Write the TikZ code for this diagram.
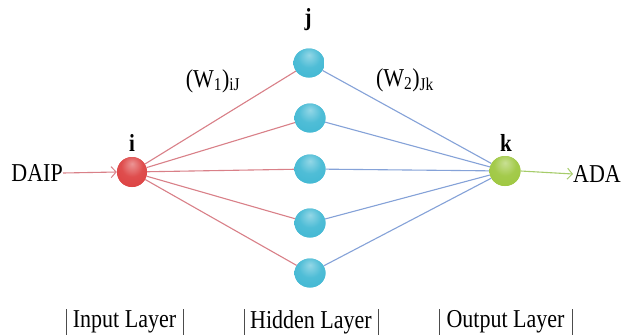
\documentclass[tikz,border=0pt]{standalone}
\usepackage{fontspec}
\setmainfont{Liberation Serif}
\usetikzlibrary{arrows.meta,shapes.geometric}
\definecolor{redline}{HTML}{D98088}
\definecolor{blueline}{HTML}{85A2D8}
\definecolor{greenline}{HTML}{A6CC6A}
\definecolor{nred}{HTML}{DC3E3E}
\definecolor{ncyan}{HTML}{3CB6D2}
\definecolor{ngreen}{HTML}{9CC63C}
\pgfdeclareradialshading{redball}{\pgfpoint{0bp}{14bp}}{color(0bp)=(nred!55!white); color(18bp)=(nred!92!white); color(42bp)=(nred); color(56bp)=(nred!75!black); color(66bp)=(nred!55!black)}
\pgfdeclareradialshading{cyanball}{\pgfpoint{0bp}{14bp}}{color(0bp)=(ncyan!55!white); color(18bp)=(ncyan!90!white); color(42bp)=(ncyan); color(56bp)=(ncyan!75!black); color(66bp)=(ncyan!55!black)}
\pgfdeclareradialshading{greenball}{\pgfpoint{0bp}{14bp}}{color(0bp)=(ngreen!55!white); color(18bp)=(ngreen!92!white); color(42bp)=(ngreen); color(56bp)=(ngreen!80!black); color(66bp)=(ngreen!60!black)}
\newcommand{\tallT}[1]{\scalebox{1}[1.17]{#1}}
\tikzset{
  neuron/.style={ellipse, minimum width=31pt, minimum height=29pt, inner sep=0pt},
  inneuron/.style={neuron, minimum width=30pt, minimum height=30pt, shading=redball},
  hidneuron/.style={neuron, shading=cyanball},
  outneuron/.style={neuron, minimum width=31pt, minimum height=30pt, shading=greenball},
  lbl/.style={font=\fontsize{22}{24}\selectfont, inner sep=0pt},
  idx/.style={font=\fontsize{21}{24}\selectfont\bfseries, inner sep=0pt},
  layer/.style={font=\fontsize{22}{24}\selectfont, inner sep=0pt},
  bar/.style={draw=black!70, line width=0.8pt},
  inedge/.style={draw=redline, line width=1.1pt},
  outedge/.style={draw=blueline, line width=1.1pt},
  tip/.style={-{Straight Barb[length=5pt,width=11pt,line width=1pt]}},
}
\begin{document}
\begin{tikzpicture}[x=1pt,y=-1pt]
\useasboundingbox (0,0) rectangle (623,335);
\fill[white] (0,0) rectangle (623,335);
% nodes
\node[inneuron] (i) at (132,172) {};
\node[hidneuron] (h1) at (309,63) {};
\node[hidneuron] (h2) at (310,118) {};
\node[hidneuron] (h3) at (310,169) {};
\node[hidneuron] (h4) at (310,223) {};
\node[hidneuron] (h5) at (310,273) {};
\node[outneuron] (k) at (505,171) {};
% edges
\foreach \h in {h1,h2,h3,h4,h5}{
  \draw[inedge] (i) -- (\h);
  \draw[outedge] (\h) -- (k);
}
% redraw nodes on top
\node[inneuron] at (i) {};
\foreach \h in {h1,h2,h3,h4,h5}{\node[hidneuron] at (\h) {};}
\node[outneuron] at (k) {};
% labels
\node[idx] (li) at (132,143) {\tallT{i}};
\node[idx] (lj) at (308,20) {\tallT{j}};
\node[idx] (lk) at (506,143) {\tallT{k}};
\node[lbl] (w1) at (213,81) {\tallT{(W\textsubscript{1})\textsubscript{iJ}}};
\node[lbl] (w2) at (405,80) {\tallT{(W\textsubscript{2})\textsubscript{Jk}}};
\node[lbl, anchor=east] (daip) at (63,173) {\tallT{DAIP}};
\node[lbl, anchor=west] (ada) at (573,174) {\tallT{ADA}};
\draw[draw=redline, line width=1.1pt, tip] (daip.east) -- (i.west);
\draw[draw=greenline, line width=1.1pt, tip] (k.east) -- (ada.west);
% layer labels
\node[layer] (inl) at (124.5,322) {\tallT{Input Layer}};
\node[layer] (hidl) at (311,322) {\tallT{Hidden Layer}};
\node[layer] (outl) at (505.5,322) {\tallT{Output Layer}};
\coordinate (a1) at (66,309); \coordinate (a2) at (66,335);
\coordinate (a3) at (183,309); \coordinate (a4) at (183,335);
\coordinate (b1) at (244,309); \coordinate (b2) at (244,335);
\coordinate (b3) at (378,309); \coordinate (b4) at (378,335);
\coordinate (c1) at (439,309); \coordinate (c2) at (439,335);
\coordinate (c3) at (572,309); \coordinate (c4) at (572,335);
\draw[bar] (a1) -- (a2); \draw[bar] (a3) -- (a4);
\draw[bar] (b1) -- (b2); \draw[bar] (b3) -- (b4);
\draw[bar] (c1) -- (c2); \draw[bar] (c3) -- (c4);
\end{tikzpicture}
\end{document}
